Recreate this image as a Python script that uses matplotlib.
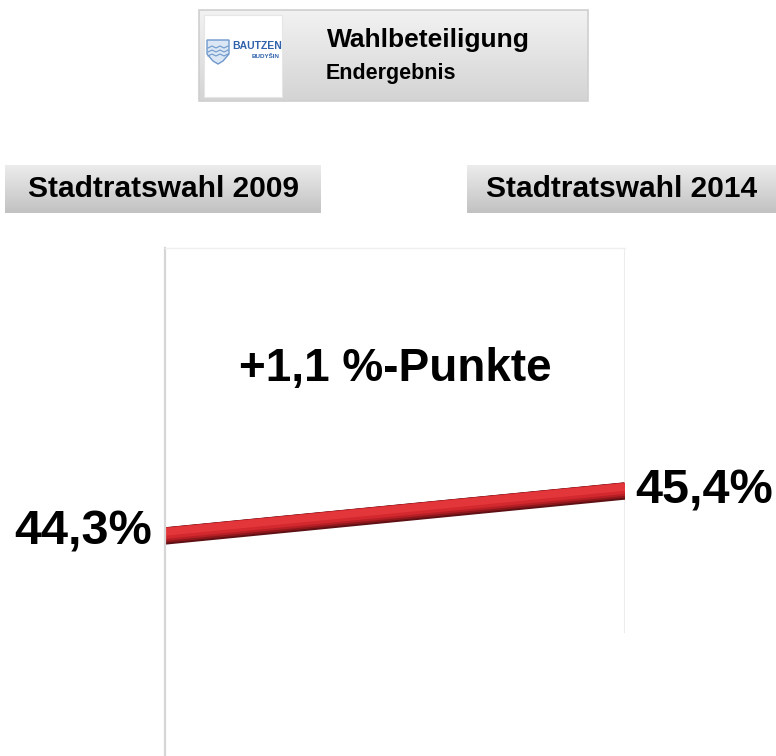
import matplotlib.pyplot as plt
import matplotlib.patheffects as pe
from matplotlib.colors import LinearSegmentedColormap
from matplotlib.patches import Rectangle, Polygon
import numpy as np

plt.rcParams['font.family'] = ['Liberation Sans', 'DejaVu Sans']

# data
elections = ['Stadtratswahl 2009', 'Stadtratswahl 2014']
turnout = [44.3, 45.4]
turnout_labels = ['44,3%', '45,4%']
delta_label = '+1,1 %-Punkte'
title = 'Wahlbeteiligung'
subtitle = 'Endergebnis'

W, H = 776, 756
fig = plt.figure(figsize=(W / 100, H / 100), dpi=100)
fig.patch.set_facecolor('white')

# main chart area (pixel box 165..625 x 248..756)
ax = fig.add_axes([165 / W, 0, 460 / W, (H - 248) / H])
ax.set_xlim(0, 1)
ax.set_ylim(38.92, 51.34)
ax.set_xticks([])
ax.set_yticks([])
for s in ['bottom', 'right']:
    ax.spines[s].set_visible(False)
ax.spines['left'].set_color('#d6d6d6')
ax.spines['left'].set_linewidth(1.6)
ax.spines['top'].set_color('#eeeeee')
ax.spines['top'].set_linewidth(1.0)
ax.axvline(1, ymin=(756 - 632) / (756 - 248), ymax=1, color='#ececec', lw=1.5)

# red line with a soft dark lower edge
x = np.arange(len(turnout)) / (len(turnout) - 1)
ax.plot(x, turnout, color='#d62a30', lw=12.5, solid_capstyle='butt',
        path_effects=[pe.Stroke(linewidth=12.5, foreground='#5e1014'),
                      pe.Stroke(linewidth=11, foreground='#8e171c', offset=(0, 0.6)),
                      pe.Stroke(linewidth=9.5, foreground='#b51f25', offset=(0, 1.2)),
                      pe.Stroke(linewidth=8, foreground='#d2282e', offset=(0, 1.9)),
                      pe.Stroke(linewidth=5.5, foreground='#e3363b', offset=(0, 2.9))])

ax.annotate(turnout_labels[0], (x[0], turnout[0]), xytext=(-13, 4),
            textcoords='offset pixels', ha='right', va='center',
            fontsize=35, fontweight='bold', annotation_clip=False)
ax.annotate(turnout_labels[1], (x[1], turnout[1]), xytext=(10, 0),
            textcoords='offset pixels', ha='left', va='center',
            fontsize=35, fontweight='bold', annotation_clip=False)
ax.text(0.5, 1 - (369 - 248) / (756 - 248), delta_label, transform=ax.transAxes,
        ha='center', va='center', fontsize=33, fontweight='bold')

# overlay in pixel coordinates for header boxes
ov = fig.add_axes([0, 0, 1, 1], zorder=3)
ov.patch.set_alpha(0)
ov.axis('off')


def grad_box(x0, y0, x1, y1, top, bottom, edge=None):
    g = np.linspace(0, 1, 64).reshape(-1, 1)
    cmap = LinearSegmentedColormap.from_list('g', [top, bottom])
    ov.imshow(g, cmap=cmap, aspect='auto', extent=[x0, x1, y1, y0],
              interpolation='bilinear', zorder=1)
    if edge:
        ov.add_patch(Rectangle((x0, y0), x1 - x0, y1 - y0, fill=False,
                               ec=edge, lw=1.2, zorder=2))


# title box
grad_box(199, 10, 588, 101, '#f2f2f2', '#d4d4d4', edge='#cfcfcf')
ov.add_patch(Rectangle((204, 15), 78, 82, fc='white', ec='#e6e6e6', lw=0.8, zorder=3))
ov.text(327, 40, title, ha='left', va='center', fontsize=19, fontweight='bold', zorder=4)
ov.text(326, 73, subtitle, ha='left', va='center', fontsize=15.5, fontweight='bold', zorder=4)

# logo
shield = Polygon([[207, 40], [229, 40], [229, 54], [223, 61], [218, 64],
                  [213, 61], [207, 54]], closed=True, fc='#dbe7f4',
                 ec='#6f98cc', lw=1.0, zorder=4)
ov.add_patch(shield)
for yy in [48, 52, 56]:
    ov.plot([208, 212, 216, 220, 224, 228], [yy, yy - 2, yy, yy - 2, yy, yy - 2],
            color='#6f98cc', lw=0.8, zorder=5)
ov.text(257, 46, 'BAUTZEN', ha='center', va='center', fontsize=7.5,
        fontweight='bold', color='#2f62ab', zorder=5)
ov.text(279, 56, 'BUDYŠIN', ha='right', va='center', fontsize=4.5,
        fontweight='bold', color='#2f62ab', zorder=5)

# election headers
grad_box(5, 165, 321, 213, '#ececec', '#c2c2c2')
grad_box(467, 165, 776, 213, '#ececec', '#c2c2c2')
ov.text(163, 189, elections[0], ha='center', va='center', fontsize=21.5, fontweight='bold', zorder=4)
ov.text(622, 189, elections[1], ha='center', va='center', fontsize=21.5, fontweight='bold', zorder=4)

ov.set_xlim(0, W)
ov.set_ylim(H, 0)

fig.savefig('out.png', dpi=100)
